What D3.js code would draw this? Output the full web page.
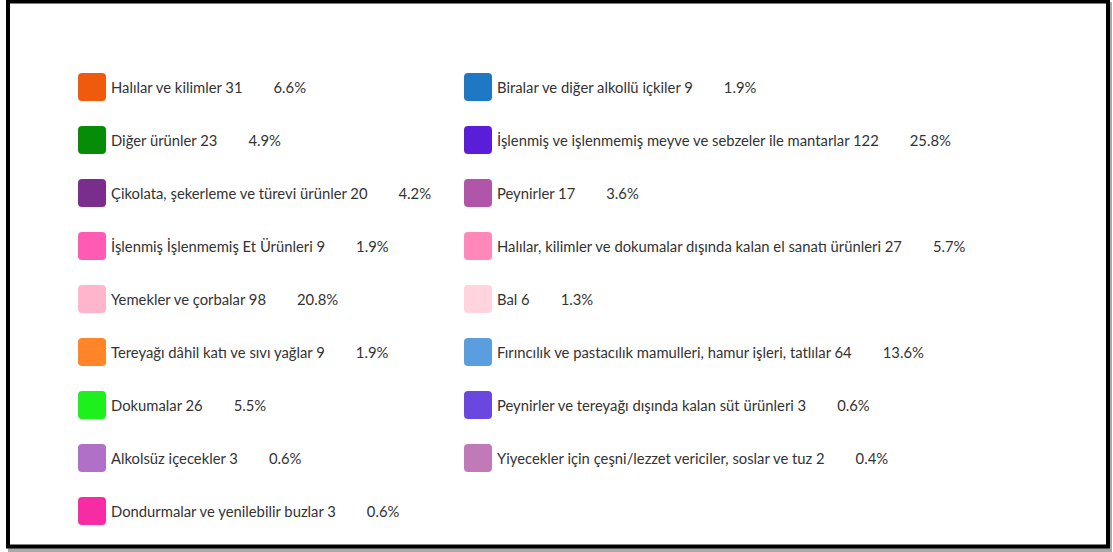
<!DOCTYPE html>
<html>
<head>
<meta charset="utf-8">
<script src="https://cdn.jsdelivr.net/npm/d3@7"></script>
<style>
  html, body { margin: 0; padding: 0; background: #fff; }
  svg { display: block; }
</style>
</head>
<body>
<svg id="chart" width="1113" height="552"></svg>
<script>
// Categories in row-major order (left, right, left, right, ...)
const categories = [
  "Halılar ve kilimler",
  "Biralar ve diğer alkollü içkiler",
  "Diğer ürünler",
  "İşlenmiş ve işlenmemiş meyve ve sebzeler ile mantarlar",
  "Çikolata, şekerleme ve türevi ürünler",
  "Peynirler",
  "İşlenmiş İşlenmemiş Et Ürünleri",
  "Halılar, kilimler ve dokumalar dışında kalan el sanatı ürünleri",
  "Yemekler ve çorbalar",
  "Bal",
  "Tereyağı dâhil katı ve sıvı yağlar",
  "Fırıncılık ve pastacılık mamulleri, hamur işleri, tatlılar",
  "Dokumalar",
  "Peynirler ve tereyağı dışında kalan süt ürünleri",
  "Alkolsüz içecekler",
  "Yiyecekler için çeşni/lezzet vericiler, soslar ve tuz",
  "Dondurmalar ve yenilebilir buzlar"
];
const counts = [31, 9, 23, 122, 20, 17, 9, 27, 98, 6, 9, 64, 26, 3, 3, 2, 3];
const colors = [
  "#ef5b0c", "#1f78c4",
  "#078c07", "#5a1ed8",
  "#7b2d8e", "#b055a8",
  "#ff5ab4", "#ff88b8",
  "#ffb6cc", "#ffd4dc",
  "#ff8528", "#5a9ee0",
  "#1ef01e", "#6a48e0",
  "#b070c8", "#c07ab8",
  "#f72ca5"
];

const svg = d3.select("#chart");

// frame with shadow
svg.append("rect").attr("x", 10).attr("y", 4).attr("width", 1100).attr("height", 546)
  .attr("fill", "none").attr("stroke", "#aaa").attr("stroke-width", 4);
svg.append("rect").attr("x", 8).attr("y", 1.5).attr("width", 1100).attr("height", 545)
  .attr("fill", "#fff").attr("stroke", "#000").attr("stroke-width", 4);

const total = d3.sum(counts);
const fmt = d3.format(".1f");
const data = categories.map((c, i) => ({
  label: c + " " + counts[i],
  pct: fmt(counts[i] / total * 100) + "%",
  color: colors[i],
  col: i % 2,
  row: Math.floor(i / 2)
}));

const nRows = d3.max(data, d => d.row) + 1;
const y = d3.scaleLinear().domain([0, nRows - 1]).range([87, 511]);
const x = d3.scaleOrdinal().domain([0, 1]).range([78, 464]);

const sw = 28;
const g = svg.append("g");
const items = g.selectAll("g.item").data(data).join("g")
  .attr("class", "item")
  .attr("transform", d => `translate(${x(d.col)},${y(d.row)})`);

items.append("rect")
  .attr("x", 0).attr("y", -sw / 2)
  .attr("width", sw).attr("height", sw)
  .attr("rx", 4).attr("ry", 4)
  .attr("fill", d => d.color);

const fontFamily = "Lato, 'Open Sans', sans-serif";
const fs = 14.8;
const labels = items.append("text")
  .attr("x", 33).attr("y", 5.5)
  .attr("font-family", fontFamily)
  .attr("font-size", fs)
  .attr("fill", "#333")
  .text(d => d.label);

labels.each(function(d) { d.w = this.getComputedTextLength(); });

items.append("text")
  .attr("x", d => 33 + d.w + 31).attr("y", 5.5)
  .attr("font-family", fontFamily)
  .attr("font-size", fs)
  .attr("fill", "#333")
  .text(d => d.pct);
</script>
</body>
</html>
